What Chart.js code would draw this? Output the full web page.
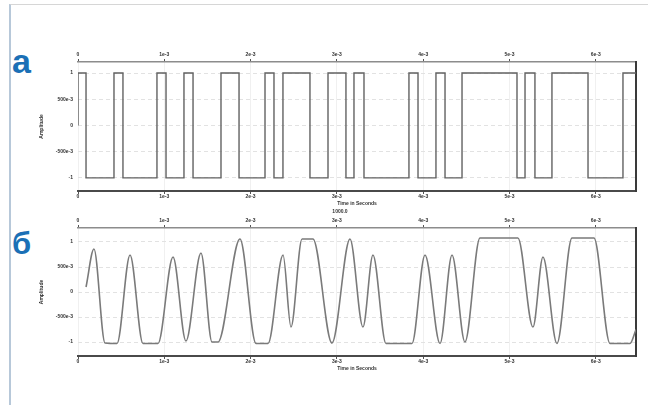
<!DOCTYPE html>
<html>
<head>
<meta charset="utf-8">
<script src="https://cdn.jsdelivr.net/npm/chart.js@4.4.1/dist/chart.umd.min.js"></script>
<style>
    html, body { margin: 0; padding: 0; background: #ffffff; }
    body { width: 648px; height: 405px; position: relative; overflow: hidden; font-family: 'Liberation Sans', Arial, sans-serif; }
    .frame { position: absolute; left: 9px; top: 4px; width: 660px; height: 440px; border-left: 2px solid #b7c8d9; border-top: 1px solid #d6d6d6; }
    .panel-letter { position: absolute; left: 12px; font-weight: bold; color: #1b70b6; line-height: 1; }
    .scope { position: absolute; left: 0; }
    .note { position: absolute; font-size: 5px; font-weight: bold; color: #333; transform: translateX(-50%); white-space: nowrap; }
</style>
</head>
<body>
<div class="frame"></div>
<div class="panel-letter" style="top:44px;font-size:34px;">а</div>
<div class="panel-letter" style="top:228px;font-size:31px;">б</div>
<canvas id="digitalChart" class="scope" width="648" height="175" style="top:40px;"></canvas>
<canvas id="analogChart" class="scope" width="648" height="170" style="top:205px;"></canvas>
<div class="note" style="left:340px;top:208px;">1000.0</div>
<script>
// Axis ticks (time in units of 1e-3 s)
const timeMax = 6.466;
const timeTicks = [0, 1, 2, 3, 4, 5, 6];
const timeTickLabels = ['0', '1e-3', '2e-3', '3e-3', '4e-3', '5e-3', '6e-3'];
const ampTicks = [-1, -0.5, 0, 0.5, 1];
const ampTickLabels = ['-1', '-500e-3', '0', '500e-3', '1'];

// Panel a: digital signal, one point at every level change
const digitalTimes = [0, 0, 0.093, 0.417, 0.521, 0.915, 1.020, 1.228, 1.333, 1.657, 1.866,
    2.167, 2.271, 2.375, 2.688, 2.897, 3.105, 3.198, 3.314, 3.835, 3.940,
    4.148, 4.253, 4.450, 5.087, 5.180, 5.295, 5.492, 5.910, 6.315, 6.466];
const digitalLevels = [0, 1, -1, 1, -1, 1, -1, 1, -1, 1, -1,
    1, -1, 1, -1, 1, -1, 1, -1, 1, -1,
    1, -1, 1, -1, 1, -1, 1, -1, 1, 1];

// Panel b: filtered signal, read at peaks, troughs and plateau edges
const analogTimes = [0.093, 0.185, 0.313, 0.452, 0.603, 0.753, 0.927, 1.101, 1.251, 1.425,
    1.553, 1.622, 1.877, 2.063, 2.202, 2.376, 2.468, 2.596, 2.723, 2.943,
    3.152, 3.302, 3.418, 3.569, 3.870, 4.021, 4.195, 4.334, 4.484, 4.658,
    5.098, 5.272, 5.388, 5.550, 5.724, 5.979, 6.165, 6.396, 6.466];
const analogValues = [0.10, 0.86, -1.02, -1.03, 0.74, -1.03, -1.03, 0.70, -0.98, 0.78,
    -1.00, -1.00, 1.06, -1.03, -1.03, 0.74, -0.70, 1.06, 1.06, -1.02,
    1.06, -0.70, 0.74, -1.03, -1.03, 0.74, -1.03, 0.74, -1.00, 1.08,
    1.08, -0.70, 0.70, -1.03, 1.08, 1.08, -1.03, -1.03, -0.75];

const tickFont = { family: "'Liberation Sans', Arial, sans-serif", size: 5, weight: 'bold' };
const titleFont = { family: "'Liberation Sans', Arial, sans-serif", size: 5, weight: 'bold' };

function toPoints(xs, ys) {
    return xs.map((x, i) => ({ x, y: ys[i] }));
}

function labelFor(values, labels, v) {
    const idx = values.findIndex((t) => Math.abs(t - v) < 1e-6);
    return idx >= 0 ? labels[idx] : '';
}

function buildScopeConfig(dataset, yMin, yMax, frame) {
    return {
        type: 'line',
        data: { datasets: [dataset] },
        options: {
            responsive: false,
            animation: false,
            devicePixelRatio: 1,
            layout: { padding: { left: 0, right: 12, top: 0, bottom: 0 } },
            plugins: { legend: { display: false }, tooltip: { enabled: false } },
            scales: {
                x: {
                    type: 'linear',
                    position: 'bottom',
                    min: 0,
                    max: timeMax,
                    afterBuildTicks: (axis) => { axis.ticks = timeTicks.map((v) => ({ value: v })); },
                    afterFit: (axis) => { axis.height = frame.bottomAxis; },
                    ticks: {
                        autoSkip: false,
                        maxRotation: 0,
                        padding: 0,
                        font: tickFont,
                        color: '#333',
                        callback: (v) => labelFor(timeTicks, timeTickLabels, v),
                    },
                    grid: { color: '#f0f0f0', tickLength: 3, tickColor: '#555' },
                    border: { color: '#4a4a4a', width: 2 },
                    title: {
                        display: true,
                        text: 'Time in Seconds',
                        font: titleFont,
                        color: '#333',
                        padding: { top: 0, bottom: frame.titlePad },
                    },
                },
                x2: {
                    type: 'linear',
                    position: 'top',
                    min: 0,
                    max: timeMax,
                    afterBuildTicks: (axis) => { axis.ticks = timeTicks.map((v) => ({ value: v })); },
                    afterFit: (axis) => { axis.height = frame.topAxis; },
                    ticks: {
                        autoSkip: false,
                        maxRotation: 0,
                        padding: 1,
                        font: tickFont,
                        color: '#333',
                        callback: (v) => labelFor(timeTicks, timeTickLabels, v),
                    },
                    grid: { drawOnChartArea: false, tickLength: 3, tickColor: '#555' },
                    border: { color: '#8c8c8c', width: 1.5 },
                },
                y: {
                    min: yMin,
                    max: yMax,
                    afterBuildTicks: (axis) => { axis.ticks = ampTicks.map((v) => ({ value: v })); },
                    afterFit: (axis) => { axis.width = 78; },
                    ticks: {
                        padding: 5,
                        font: tickFont,
                        color: '#333',
                        callback: (v) => labelFor(ampTicks, ampTickLabels, v),
                    },
                    grid: { color: '#e2e2e2', drawTicks: false },
                    border: { display: false, dash: [4, 3] },
                    title: {
                        display: true,
                        text: 'Amplitude',
                        font: titleFont,
                        color: '#333',
                        padding: { top: 39, bottom: 0 },
                    },
                },
                y2: {
                    position: 'right',
                    afterFit: (axis) => { axis.width = 0; },
                    ticks: { display: false },
                    grid: { display: false },
                    border: { color: '#3a3a3a', width: 2 },
                },
            },
        },
    };
}

const digitalDataset = {
    data: toPoints(digitalTimes, digitalLevels),
    stepped: 'before',
    borderColor: '#626262',
    borderWidth: 1.4,
    pointRadius: 0,
    fill: false,
};

const analogDataset = {
    data: toPoints(analogTimes, analogValues),
    cubicInterpolationMode: 'monotone',
    borderColor: '#7a7a7a',
    borderWidth: 1.6,
    pointRadius: 0,
    fill: false,
};

new Chart(document.getElementById('digitalChart'),
    buildScopeConfig(digitalDataset, -1.25, 1.21, { topAxis: 22, bottomAxis: 24, titlePad: 8 }));
new Chart(document.getElementById('analogChart'),
    buildScopeConfig(analogDataset, -1.28, 1.28, { topAxis: 23, bottomAxis: 19, titlePad: 3 }));
</script>
</body>
</html>
